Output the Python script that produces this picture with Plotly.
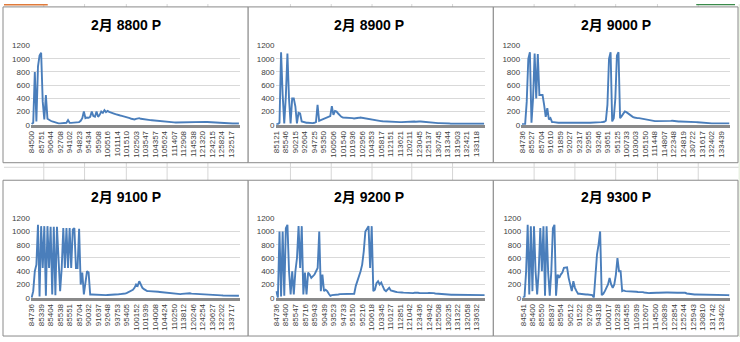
import plotly.graph_objects as go

W, H = 740, 342

titles = ["2月 8800 P", "2月 8900 P", "2月 9000 P", "2月 9100 P", "2月 9200 P", "2月 9300 P"]

labels_8800 = ["84500", "85751", "90644", "92708", "94102", "94823", "95434", "95908", "100516", "101114", "101510",
               "102503", "103547", "104357", "105624", "111407", "112908", "114538", "121320", "124215", "125824", "132517"]
labels_8900 = ["85121", "85546", "90215", "92604", "94725", "95350", "100506", "101540", "101936", "102956", "104353",
               "105817", "112151", "113621", "120211", "123045", "125137", "130745", "131344", "131903", "132421", "133118"]
labels_9000 = ["84736", "85527", "85704", "91610", "91859", "92027", "92317", "92955", "93246", "93651", "95125",
               "100733", "103003", "105150", "111448", "114807", "122348", "124819", "130722", "131617", "132402", "133439"]
labels_9100 = ["84736", "85339", "85404", "85538", "85551", "85704", "90032", "91637", "92648", "93753", "95405",
               "100152", "101939", "104008", "104424", "110250", "113812", "120246", "124254", "130627", "132202", "133717"]
labels_9200 = ["84736", "85400", "85547", "85716", "85943", "90439", "93523", "94733", "95150", "95216", "100618",
               "103345", "110127", "112851", "121042", "123436", "124942", "125508", "130235", "131322", "132058", "133632"]
labels_9300 = ["84541", "85400", "85550", "85837", "85954", "90512", "91522", "92709", "94318", "100017", "102328",
               "105455", "110939", "112607", "114500", "120839", "122854", "125244", "125943", "130810", "131742", "133402"]

values_8800 = [10, 30, 800, 50, 880, 1050, 1090, 350, 80, 450,
               90, 70, 60, 50, 40, 30, 25, 20, 20, 22,
               20, 25, 30, 70, 30, 28, 30, 32, 30, 35,
               40, 60, 100, 200, 100, 110, 105, 120, 200, 130,
               120, 200, 120, 150, 200, 180, 220, 190, 210, 195,
               190, 180, 170, 160, 150, 145, 140, 135, 130, 125,
               115, 105, 100, 90, 85, 80, 90, 95, 100, 90,
               85, 80, 75, 72, 70, 70, 68, 65, 60, 62,
               58, 55, 50, 45, 42, 40, 38, 35, 35, 36,
               35, 34, 35, 35, 36, 35, 34, 35, 36, 38,
               40, 40, 42, 44, 45, 45, 44, 42, 42, 43,
               44, 42, 40, 38, 35, 32, 30, 28, 26, 25,
               24, 22, 22, 20, 20, 20, 19, 18, 18, 18, 18, 18]

values_8900 = [10, 10, 30, 1100, 450, 20, 430, 1080, 400, 20,
               400, 400, 280, 20, 180, 170, 50, 40, 35, 30,
               30, 25, 20, 25, 30, 40, 300, 60, 70, 80,
               85, 90, 100, 120, 130, 280, 150, 210, 200, 170,
               140, 120, 110, 110, 105, 105, 100, 100, 100, 95,
               95, 100, 105, 110, 105, 100, 95, 95, 90, 90,
               85, 80, 75, 70, 60, 55, 55, 52, 50, 50,
               48, 45, 45, 45, 42, 42, 40, 40, 40, 40,
               42, 45, 45, 48, 45, 45, 50, 48, 45, 50,
               50, 48, 45, 45, 42, 40, 38, 35, 32, 30,
               28, 25, 25, 25, 22, 20, 20, 20, 18, 18,
               16, 15, 15, 15, 15, 15, 15, 15, 15, 15,
               15, 15, 15, 15, 15, 15, 15, 15, 15, 15, 15, 15]

values_9000 = [10, 10, 10, 350, 1000, 1100, 30, 400, 1080, 400,
               1070, 450, 450, 450, 300, 120, 250, 80, 100, 40,
               40, 35, 30, 30, 32, 30, 28, 30, 30, 32,
               30, 30, 28, 30, 30, 30, 32, 30, 28, 30,
               30, 32, 30, 30, 30, 32, 33, 35, 35, 38,
               40, 42, 45, 60, 300, 1000, 1100, 50, 100, 400,
               1050, 1100, 100, 130, 170, 200, 190, 170, 150, 130,
               120, 110, 100, 100, 100, 95, 90, 85, 80, 70,
               65, 60, 60, 58, 55, 55, 55, 52, 50, 50,
               48, 50, 55, 55, 58, 60, 55, 55, 52, 50,
               50, 50, 48, 50, 50, 48, 45, 45, 42, 40,
               40, 38, 35, 30, 28, 25, 22, 20, 20, 20,
               20, 20, 20, 20, 20, 20, 20, 20, 20, 20, 20, 20]

values_9100 = [0, 100, 400, 500, 1100, 20, 1080, 450, 1080, 30,
               1080, 450, 1070, 50, 1070, 40, 1070, 450, 100, 450,
               1050, 450, 1050, 450, 1050, 450, 1030, 1050, 450, 450,
               1040, 200, 380, 50, 200, 400, 380, 50, 50, 48,
               45, 45, 42, 40, 40, 40, 40, 40, 42, 42,
               45, 45, 48, 50, 50, 52, 55, 55, 60, 65,
               70, 80, 100, 110, 120, 150, 200, 180, 250, 200,
               150, 130, 110, 100, 100, 100, 95, 95, 90, 90,
               90, 88, 85, 80, 78, 75, 70, 65, 62, 60,
               58, 55, 52, 50, 55, 58, 60, 62, 65, 70,
               68, 62, 60, 62, 65, 60, 58, 55, 52, 50,
               48, 45, 42, 40, 40, 40, 40, 38, 38, 36,
               36, 35, 35, 35, 35, 35, 33, 33, 33, 32, 32, 30]

values_9200 = [100, 0, 1000, 20, 1000, 30, 1050, 1100, 400, 50,
               400, 50, 400, 600, 1080, 450, 1080, 50, 380, 50,
               380, 350, 300, 320, 350, 400, 450, 1000, 100, 350,
               100, 120, 100, 60, 30, 40, 40, 45, 50, 50,
               55, 55, 55, 60, 60, 60, 60, 60, 60, 60,
               180, 250, 300, 400, 500, 700, 1000, 1050, 1080, 450,
               1080, 100, 120, 220, 250, 200, 230, 170, 120, 100,
               130, 150, 110, 100, 95, 90, 85, 80, 80, 80,
               78, 75, 72, 70, 70, 70, 70, 75, 80, 75,
               72, 70, 70, 70, 70, 70, 72, 75, 72, 70,
               65, 62, 60, 60, 60, 58, 55, 52, 50, 48,
               45, 45, 45, 45, 43, 42, 42, 40, 40, 40,
               40, 40, 40, 40, 40, 40, 40, 40, 40, 40, 40, 40]

values_9300 = [0, 20, 400, 1100, 50, 1080, 100, 1080, 400, 50,
               400, 1050, 400, 1080, 30, 1080, 380, 30, 400, 1050,
               1100, 30, 350, 300, 350, 380, 450, 460, 460, 300,
               220, 100, 250, 150, 100, 60, 60, 55, 55, 50,
               50, 50, 50, 45, 40, 0, 300, 650, 800, 1000,
               40, 60, 100, 150, 200, 300, 200, 150, 200, 350,
               600, 400, 400, 100, 110, 100, 100, 95, 95, 100,
               95, 90, 90, 88, 90, 90, 85, 80, 75, 72,
               70, 72, 75, 75, 78, 75, 75, 78, 80, 80,
               82, 80, 80, 78, 80, 80, 80, 78, 75, 78,
               80, 80, 78, 75, 65, 60, 55, 52, 50, 50,
               50, 50, 48, 48, 47, 45, 45, 45, 45, 45,
               45, 45, 43, 42, 42, 40, 40, 40, 40, 40, 40, 38]

y_ticks = [0, 200, 400, 600, 800, 1000, 1200]

series = [values_8800, values_8900, values_9000, values_9100, values_9200, values_9300]
labels = [labels_8800, labels_8900, labels_9000, labels_9100, labels_9200, labels_9300]

# layout geometry in pixels
plot_boxes = [(27, 237, 42.7, 124), (273, 483.5, 42.7, 124), (520, 730, 42.7, 124),
              (27, 237, 220, 301.7), (273, 484, 220, 301.7), (521, 730, 220, 301.7)]
frames = [(-1, 3, 245.5, 163), (245.5, 3, 492, 163), (492, 3, 738, 163),
          (-1, 181, 245.5, 341), (245.5, 181, 492, 341), (492, 181, 738, 341)]
title_pos = [(122.5, 22), (367, 22), (615, 22), (123, 198), (367, 198), (615, 198)]


def fx(x):
    return x / W


def fy(y):
    return 1 - y / H


fig = go.Figure()
shapes = []
annotations = []

# spreadsheet background grid
grid_col = "#d6d6d6"
for x in [40, 81, 123, 164, 205, 288, 329, 370, 410, 451, 533, 574, 615, 657, 698]:
    shapes.append(dict(type="line", xref="paper", yref="paper", x0=fx(x), x1=fx(x), y0=fy(163), y1=fy(181),
                       line=dict(color=grid_col, width=1), layer="below"))
    shapes.append(dict(type="line", xref="paper", yref="paper", x0=fx(x), x1=fx(x), y0=fy(0), y1=fy(3),
                       line=dict(color=grid_col, width=1), layer="below"))
shapes.append(dict(type="line", xref="paper", yref="paper", x0=0, x1=1, y0=fy(167.7), y1=fy(167.7),
                   line=dict(color=grid_col, width=1), layer="below"))
shapes.append(dict(type="rect", xref="paper", yref="paper", x0=0, x1=fx(44), y0=fy(1.5), y1=1,
                   line=dict(width=0), fillcolor="#e07a3a", layer="below"))
shapes.append(dict(type="rect", xref="paper", yref="paper", x0=fx(696), x1=fx(735), y0=fy(1.2), y1=1,
                   line=dict(width=0), fillcolor="#3a8a4a", layer="below"))
shapes.append(dict(type="rect", xref="paper", yref="paper", x0=fx(738.5), x1=1, y0=0, y1=1,
                   line=dict(width=0), fillcolor="#e9f1e2", layer="below"))

for (x0, y0, x1, y1) in frames:
    shapes.append(dict(type="rect", xref="paper", yref="paper", x0=fx(x0), x1=fx(x1), y0=fy(y1), y1=fy(y0),
                       line=dict(color="#8a8a8a", width=1), fillcolor="white", layer="below"))

for k in range(6):
    vals = series[k]
    n = len(vals)
    xs = list(range(n))
    suffix = "" if k == 0 else str(k + 1)
    fig.add_trace(go.Scatter(x=xs, y=vals, mode="lines", line=dict(color="#4a7ebb", width=1.9),
                             xaxis="x" + suffix, yaxis="y" + suffix, hoverinfo="skip", showlegend=False))
    px0, px1, py0, py1 = plot_boxes[k]
    step = n / len(labels[k])
    tickvals = [round(i * step) for i in range(len(labels[k]))]
    fig.update_layout(**{
        "xaxis" + suffix: dict(domain=[fx(px0), fx(px1)], anchor="y" + suffix, range=[-0.5, n - 0.5],
                               tickmode="array", tickvals=tickvals, ticktext=labels[k], tickangle=-90,
                               tickfont=dict(family="Liberation Sans, Arial", size=8, color="#404040"),
                               showgrid=False, zeroline=False, showline=True, linecolor="#8a8a8a",
                               linewidth=3, ticks=""),
        "yaxis" + suffix: dict(domain=[fy(py1), fy(py0)], anchor="x" + suffix, range=[0, 1200],
                               tickmode="array", tickvals=y_ticks,
                               tickfont=dict(family="Liberation Sans, Arial", size=8, color="#404040"),
                               showgrid=True, gridcolor="#d9d9d9", gridwidth=1, zeroline=False,
                               showline=False, ticks=""),
    })
    tx, ty = title_pos[k]
    annotations.append(dict(text=titles[k], xref="paper", yref="paper", x=fx(tx), y=fy(ty),
                            xanchor="center", yanchor="middle", showarrow=False,
                            font=dict(family="Liberation Sans, Noto Sans CJK SC", size=14, color="#000000",
                                      weight="bold")))

fig.update_layout(width=W, height=H, margin=dict(l=0, r=0, t=0, b=0), paper_bgcolor="white",
                  plot_bgcolor="rgba(0,0,0,0)", shapes=shapes, annotations=annotations, showlegend=False)

fig.write_html("out.html")
